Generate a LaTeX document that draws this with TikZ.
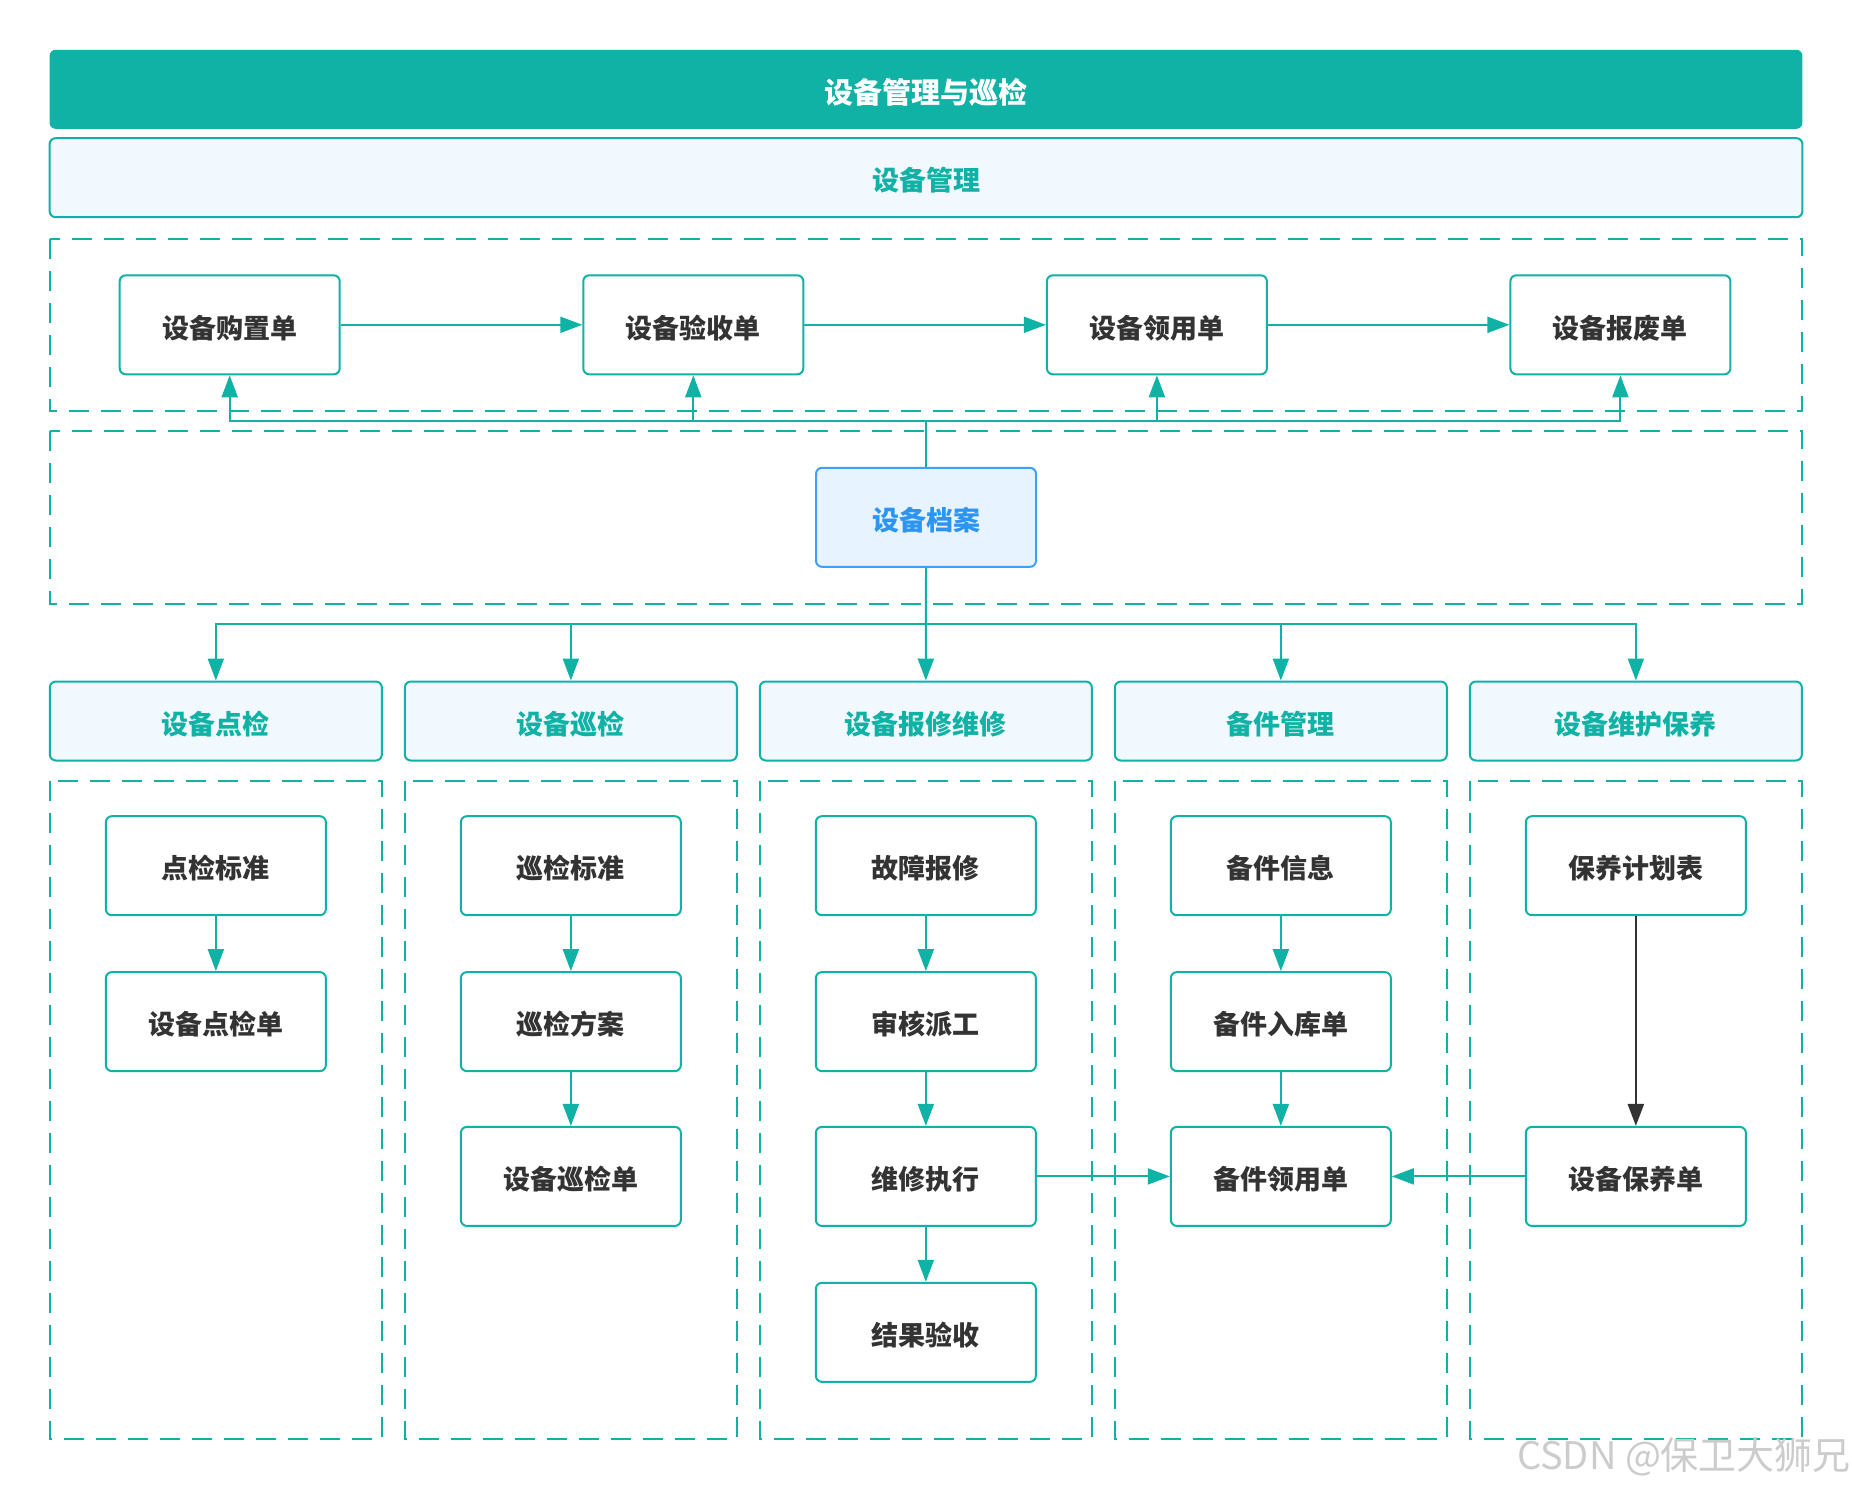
\documentclass[tikz,border=0pt]{standalone}
\usepackage{fontspec}
\setmainfont{Noto Sans CJK SC}
\usetikzlibrary{arrows.meta}
\definecolor{tealA}{HTML}{0FB2A5}
\definecolor{lightfill}{HTML}{F1F9FE}
\definecolor{archfill}{HTML}{E7F3FF}
\definecolor{archline}{HTML}{3FA0F7}
\definecolor{archtext}{HTML}{2C95F2}
\definecolor{darktext}{HTML}{333333}
\begin{document}
\begin{tikzpicture}[x=0.5pt,y=-0.5pt,
  every node/.style={font=\fontsize{13.5}{16}\selectfont\bfseries, text height=13.2pt, text depth=0pt},
  box/.style={draw=tealA, line width=1pt, rounded corners=3pt, fill=white,
    minimum width=110pt, minimum height=49.5pt, inner sep=0pt, text=darktext},
  cat/.style={draw=tealA, line width=1pt, rounded corners=3pt, fill=lightfill,
    minimum width=166pt, minimum height=39.5pt, inner sep=0pt, text=tealA},
  dbox/.style={draw=tealA, line width=1pt, dash pattern=on 10pt off 6pt},
  conn/.style={draw=tealA, line width=1pt, -{Triangle[length=11pt,width=8pt]}},
  plain/.style={draw=tealA, line width=1pt},
  darkconn/.style={draw=darktext, line width=1.2pt, -{Triangle[length=11pt,width=8pt]}}]

\fill[white] (0,0) rectangle (1852,1488);
\path[use as bounding box] (0,0) rectangle (1852,1488);

% dashed frames
\draw[dbox] (49.6,238.6) rectangle (1802.4,411);
\draw[dbox] (49.6,431.1) rectangle (1802.4,603.5);
\foreach \c in {215.85,570.85,925.85,1280.85,1635.85}{
  \draw[dbox] (\c-166.25,780.7) rectangle (\c+166.25,1438.6);
}

% title bars
\node[fill=tealA, rounded corners=3pt, minimum width=876.4pt, minimum height=39.5pt,
  inner sep=0pt, text=white, font=\fontsize{14.5}{17}\selectfont\bfseries, text height=14.2pt] (title) at (926,89.3) {设备管理与巡检};
\node[cat, minimum width=876.4pt] (mgmt) at (926,177.7) {设备管理};

% row 1
\node[box] (r1) at (229.7,324.8) {设备购置单};
\node[box] (r2) at (693.3,324.8) {设备验收单};
\node[box] (r3) at (1156.9,324.8) {设备领用单};
\node[box] (r4) at (1620.4,324.8) {设备报废单};

% archive
\node[box, draw=archline, fill=archfill, text=archtext] (arch) at (926,517.3) {设备档案};

% categories
\node[cat] (c1) at (215.85,721) {设备点检};
\node[cat] (c2) at (570.85,721) {设备巡检};
\node[cat] (c3) at (925.85,721) {设备报修维修};
\node[cat] (c4) at (1280.85,721) {备件管理};
\node[cat] (c5) at (1635.85,721) {设备维护保养};

% column 1
\node[box] (a1) at (215.85,865.7) {点检标准};
\node[box] (a2) at (215.85,1021.6) {设备点检单};
% column 2
\node[box] (b1) at (570.85,865.7) {巡检标准};
\node[box] (b2) at (570.85,1021.6) {巡检方案};
\node[box] (b3) at (570.85,1176.4) {设备巡检单};
% column 3
\node[box] (d1) at (925.85,865.7) {故障报修};
\node[box] (d2) at (925.85,1021.6) {审核派工};
\node[box] (d3) at (925.85,1176.4) {维修执行};
\node[box] (d4) at (925.85,1332.3) {结果验收};
% column 4
\node[box] (e1) at (1280.85,865.7) {备件信息};
\node[box] (e2) at (1280.85,1021.6) {备件入库单};
\node[box] (e3) at (1280.85,1176.4) {备件领用单};
% column 5
\node[box] (f1) at (1635.85,865.7) {保养计划表};
\node[box] (f3) at (1635.85,1176.4) {设备保养单};

% connectors row 1
\draw[conn] (r1) -- (r2);
\draw[conn] (r2) -- (r3);
\draw[conn] (r3) -- (r4);

% archive feedback up
\coordinate (fb) at (926,420.5);
\draw[plain] (arch.north) -- (fb);
\foreach \t in {r1,r2,r3,r4}{ \draw[conn] (fb) -| (\t.south); }

% archive down to categories
\coordinate (bus) at (926,623.6);
\draw[conn] (arch.south) -- (c3.north);
\foreach \t in {c1,c2,c4,c5}{ \draw[conn] (bus) -| (\t.north); }

% column flows
\draw[conn] (a1) -- (a2);
\draw[conn] (b1) -- (b2);
\draw[conn] (b2) -- (b3);
\draw[conn] (d1) -- (d2);
\draw[conn] (d2) -- (d3);
\draw[conn] (d3) -- (d4);
\draw[conn] (e1) -- (e2);
\draw[conn] (e2) -- (e3);
\draw[darkconn] (f1) -- (f3);
\draw[conn] (d3) -- (e3);
\draw[conn] (f3) -- (e3);

% watermark
\node[anchor=east, text=black!20, font=\fontsize{19}{22}\selectfont, text height=16pt, text depth=3pt] (wm) at (1858,1456) {CSDN @保卫大狮兄};
\end{tikzpicture}
\end{document}
